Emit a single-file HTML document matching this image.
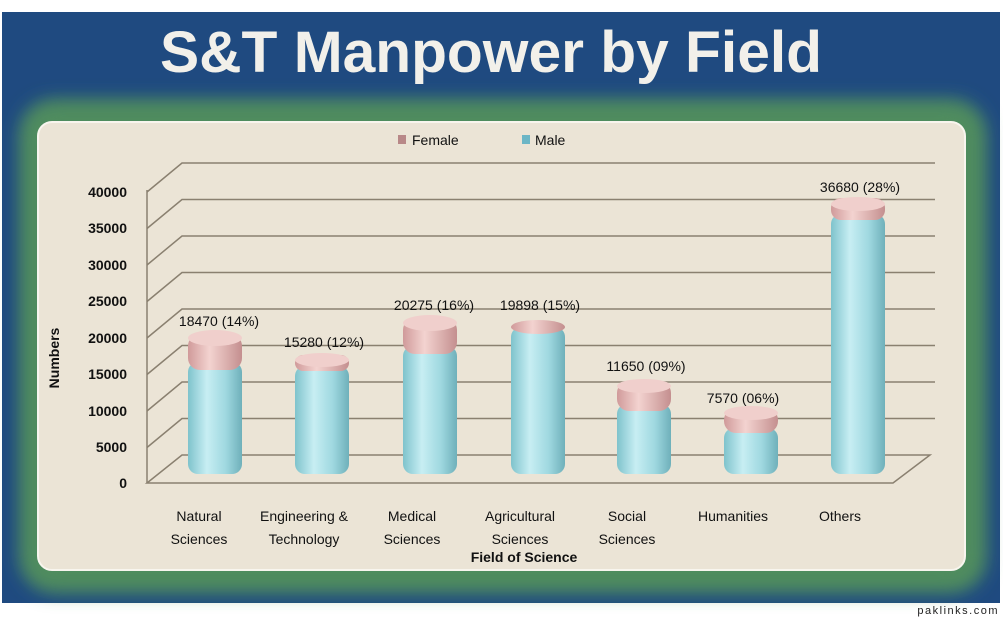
<!DOCTYPE html>
<html><head><meta charset="utf-8"><style>body{margin:0;background:#fff}svg{display:block}</style></head><body>
<svg width="1003" height="617" viewBox="0 0 1003 617" xmlns="http://www.w3.org/2000/svg" font-family="Liberation Sans, sans-serif">
<defs>
<filter id="b" x="-10%" y="-10%" width="120%" height="120%"><feGaussianBlur stdDeviation="9"/></filter>
<linearGradient id="male" x1="0" x2="1"><stop offset="0" stop-color="#7fc3cc"/><stop offset="0.35" stop-color="#c7eef3"/><stop offset="0.7" stop-color="#9fd8e0"/><stop offset="1" stop-color="#6fb0ba"/></linearGradient>
<linearGradient id="fem" x1="0" x2="1"><stop offset="0" stop-color="#d09a9a"/><stop offset="0.4" stop-color="#f3d3d0"/><stop offset="1" stop-color="#c48f8f"/></linearGradient>
</defs>
<rect x="2" y="12" width="998" height="591" fill="#1f4a80"/>
<rect x="20" y="100" width="966" height="492" rx="34" fill="#4f8c5f" filter="url(#b)"/>
<rect x="28" y="108" width="948" height="476" rx="28" fill="#4f8c5f" opacity="0.8" filter="url(#b)"/>
<rect x="38" y="122" width="927" height="448" rx="14" fill="#ebe4d6" stroke="#f8f5ee" stroke-width="2"/>
<text x="491" y="72" font-size="58" font-weight="bold" fill="#f2f0ea" text-anchor="middle" textLength="662" lengthAdjust="spacingAndGlyphs">S&amp;T Manpower by Field</text>
<rect x="398" y="135" width="8" height="9" fill="#b88888"/>
<text x="412" y="145" font-size="14" fill="#111">Female</text>
<rect x="522" y="135" width="8" height="9" fill="#6cb6c6"/>
<text x="535" y="145" font-size="14" fill="#111">Male</text>
<g stroke="#8a8070" stroke-width="1.5" fill="none">
<path d="M147,192 L182,163 L935,163"/><path d="M147,228.5 L182,199.5 L935,199.5"/><path d="M147,265 L182,236 L935,236"/><path d="M147,301.5 L182,272.5 L935,272.5"/><path d="M147,338 L182,309 L935,309"/><path d="M147,374.5 L182,345.5 L935,345.5"/><path d="M147,411 L182,382 L935,382"/><path d="M147,447.5 L182,418.5 L935,418.5"/>
<path d="M147,483 L182,455 L930,455 L893,483 Z"/>
<path d="M147,190 L147,483"/>
</g>
<g font-size="14" font-weight="bold" fill="#111" text-anchor="end">
<text x="127" y="197">40000</text><text x="127" y="233">35000</text><text x="127" y="270">30000</text><text x="127" y="306">25000</text><text x="127" y="343">20000</text><text x="127" y="379">15000</text><text x="127" y="416">10000</text><text x="127" y="452">5000</text><text x="127" y="488">0</text>
</g>
<text transform="translate(59,358) rotate(-90)" font-size="14" font-weight="bold" fill="#111" text-anchor="middle">Numbers</text>
<g>
<rect x="188" y="362" width="54" height="112" rx="10" fill="url(#male)"/><rect x="188" y="334" width="54" height="36" rx="12" fill="url(#fem)"/><ellipse cx="215" cy="338" rx="27" ry="8" fill="#f0cfcc"/>
<rect x="295" y="366" width="54" height="108" rx="10" fill="url(#male)"/><rect x="295" y="355" width="54" height="16" rx="8" fill="url(#fem)"/><ellipse cx="322" cy="360" rx="27" ry="7" fill="#f0cfcc"/>
<rect x="403" y="346" width="54" height="128" rx="10" fill="url(#male)"/><rect x="403" y="318" width="54" height="36" rx="12" fill="url(#fem)"/><ellipse cx="430" cy="323" rx="27" ry="8" fill="#f0cfcc"/>
<rect x="511" y="327" width="54" height="147" rx="10" fill="url(#male)"/><ellipse cx="538" cy="327" rx="27" ry="7" fill="url(#fem)"/>
<rect x="617" y="404" width="54" height="70" rx="10" fill="url(#male)"/><rect x="617" y="381" width="54" height="30" rx="12" fill="url(#fem)"/><ellipse cx="644" cy="386" rx="27" ry="7" fill="#f0cfcc"/>
<rect x="724" y="428" width="54" height="46" rx="10" fill="url(#male)"/><rect x="724" y="408" width="54" height="25" rx="12" fill="url(#fem)"/><ellipse cx="751" cy="413" rx="27" ry="7" fill="#f0cfcc"/>
<rect x="831" y="214" width="54" height="260" rx="10" fill="url(#male)"/><rect x="831" y="198" width="54" height="22" rx="10" fill="url(#fem)"/><ellipse cx="858" cy="204" rx="27" ry="7" fill="#f0cfcc"/>
</g>
<g font-size="14" fill="#111" text-anchor="middle">
<text x="219" y="326">18470 (14%)</text><text x="324" y="347">15280 (12%)</text><text x="434" y="310">20275 (16%)</text><text x="540" y="310">19898 (15%)</text><text x="646" y="371">11650 (09%)</text><text x="743" y="403">7570 (06%)</text><text x="860" y="192">36680 (28%)</text>
</g>
<g font-size="14" fill="#111" text-anchor="middle">
<text x="199" y="521">Natural</text><text x="199" y="544">Sciences</text>
<text x="304" y="521">Engineering &amp;</text><text x="304" y="544">Technology</text>
<text x="412" y="521">Medical</text><text x="412" y="544">Sciences</text>
<text x="520" y="521">Agricultural</text><text x="520" y="544">Sciences</text>
<text x="627" y="521">Social</text><text x="627" y="544">Sciences</text>
<text x="733" y="521">Humanities</text>
<text x="840" y="521">Others</text>
</g>
<text x="524" y="562" font-size="14" font-weight="bold" fill="#111" text-anchor="middle">Field of Science</text>
<text x="999" y="614" font-size="11" fill="#222" text-anchor="end" letter-spacing="1.5">paklinks.com</text>
</svg>
</body></html>
